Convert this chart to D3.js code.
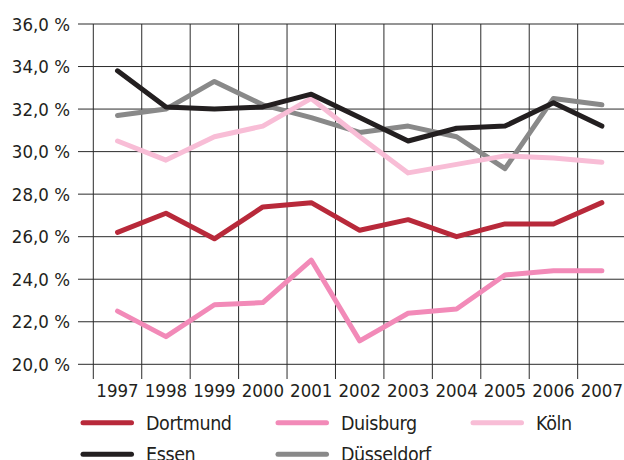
<!DOCTYPE html>
<html lang="de">
<head>
  <meta charset="UTF-8">
  <title>Anteil</title>
  <style>
    body { margin: 0; background: #fff; }
    svg text { font-family: "DejaVu Sans Condensed", "DejaVu Sans", sans-serif; fill: #231f20; }
  </style>
</head>
<body>
  <svg width="624" height="460"></svg>
  <script src="https://cdn.jsdelivr.net/npm/d3@7"></script>
  <script>
    // Daten
    var years = ["1997", "1998", "1999", "2000", "2001", "2002", "2003", "2004", "2005", "2006", "2007"]
    var yTicks = [20, 22, 24, 26, 28, 30, 32, 34, 36]
    var dortmund = [26.2, 27.1, 25.9, 27.4, 27.6, 26.3, 26.8, 26.0, 26.6, 26.6, 27.6]
    var duisburg = [22.5, 21.3, 22.8, 22.9, 24.9, 21.1, 22.4, 22.6, 24.2, 24.4, 24.4]
    var koeln = [30.5, 29.6, 30.7, 31.2, 32.5, 30.7, 29.0, 29.4, 29.8, 29.7, 29.5]
    var essen = [33.8, 32.1, 32.0, 32.1, 32.7, 31.6, 30.5, 31.1, 31.2, 32.3, 31.2]
    var duesseldorf = [31.7, 32.0, 33.3, 32.2, 31.6, 30.9, 31.2, 30.7, 29.2, 32.5, 32.2]

    var series = [
      { name: "Dortmund", values: dortmund, color: "#b8293a" },
      { name: "Duisburg", values: duisburg, color: "#f28ab8" },
      { name: "Düsseldorf", values: duesseldorf, color: "#898989" },
      { name: "Köln", values: koeln, color: "#f8bdd6" },
      { name: "Essen", values: essen, color: "#231f20" }
    ]
    var legendOrder = ["Dortmund", "Duisburg", "Köln", "Essen", "Düsseldorf"]

    var svg = d3.select("svg")
    var plotL = 93.3, plotR = 626.1, plotT = 24, plotB = 364.3

    var x = d3.scaleBand().domain(years).range([plotL, plotR])
    var y = d3.scaleLinear().domain([20, 36]).range([plotB, plotT])
    var fmt = function (v) { return d3.format(".1f")(v).replace(".", ",") + " %" }

    // Gitter
    var grid = svg.append("g").attr("stroke", "#2b2b2b").attr("stroke-width", 1)
    grid.selectAll(".h")
      .data(yTicks)
      .enter()
      .append("line")
      .attr("x1", 78).attr("x2", 624)
      .attr("y1", d => y(d)).attr("y2", d => y(d))
    grid.selectAll(".v")
      .data(years.concat(["end"]))
      .enter()
      .append("line")
      .attr("x1", (d, i) => plotL + i * x.bandwidth())
      .attr("x2", (d, i) => plotL + i * x.bandwidth())
      .attr("y1", plotT).attr("y2", 379)

    // Achsen-Beschriftung
    svg.append("g")
      .selectAll("text")
      .data(yTicks)
      .enter()
      .append("text")
      .attr("x", 70)
      .attr("y", d => y(d))
      .attr("dy", "0.36em")
      .attr("text-anchor", "end")
      .style("font-size", "18.5px")
      .text(fmt)

    svg.append("g")
      .selectAll("text")
      .data(years)
      .enter()
      .append("text")
      .attr("x", d => x(d) + x.bandwidth() / 2)
      .attr("y", 397)
      .attr("text-anchor", "middle")
      .style("font-size", "18.5px")
      .text(d => d)

    // Linien
    var line = d3.line()
      .x((d, i) => x(years[i]) + x.bandwidth() / 2)
      .y(d => y(d))

    svg.append("g")
      .selectAll("path")
      .data(series)
      .enter()
      .append("path")
      .attr("d", d => line(d.values))
      .attr("fill", "none")
      .attr("stroke", d => d.color)
      .attr("stroke-width", 5)
      .attr("stroke-linejoin", "round")
      .attr("stroke-linecap", "round")

    // Legende
    var lg = svg.append("g")
      .selectAll("g")
      .data(legendOrder.map(n => series.find(s => s.name == n)))
      .enter()
      .append("g")
      .attr("transform", (d, i) => "translate(" + (83 + (i % 3) * 195) + "," + (422.7 + Math.floor(i / 3) * 31.6) + ")")
    lg.append("line")
      .attr("x1", 0).attr("x2", 48.5)
      .attr("stroke", d => d.color)
      .attr("stroke-width", 5)
      .attr("stroke-linecap", "round")
    lg.append("text")
      .attr("x", 63)
      .attr("dy", "0.36em")
      .style("font-size", "19.5px")
      .style("letter-spacing", "-0.4px")
      .text(d => d.name)
  </script>
</body>
</html>
